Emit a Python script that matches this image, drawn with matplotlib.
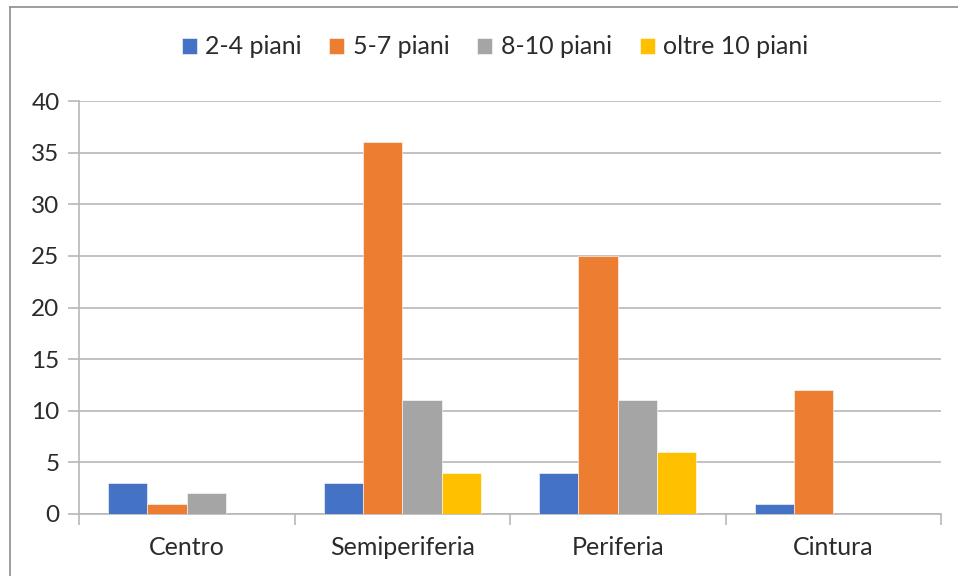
import numpy as np
import matplotlib.pyplot as plt
from matplotlib.lines import Line2D

plt.rcParams['font.family'] = ['Lato', 'DejaVu Sans']

zone = ['Centro', 'Semiperiferia', 'Periferia', 'Cintura']
piani_2_4 = [3, 3, 4, 1]
piani_5_7 = [1, 36, 25, 12]
piani_8_10 = [2, 11, 11, 0]
oltre_10 = [0, 4, 6, 0]

serie = [('2-4 piani', piani_2_4, '#4472C4'),
         ('5-7 piani', piani_5_7, '#ED7D31'),
         ('8-10 piani', piani_8_10, '#A5A5A5'),
         ('oltre 10 piani', oltre_10, '#FFC000')]

testo = '#2B2B2B'
griglia = '#B8B8B8'

fig = plt.figure(figsize=(9.58, 5.76), dpi=100)
ax = fig.add_axes([79/958, 1-514/576, 862/958, 413/576])

x = np.arange(len(zone))
w = 0.1825
for i, (nome, val, col) in enumerate(serie):
    ax.bar(x + (i - 1.5)*w, val, w, color=col, label=nome,
           edgecolor='white', linewidth=0.4, zorder=3)

ax.set_xlim(-0.5, len(zone) - 0.5)
ax.set_ylim(0, 40)
ax.set_yticks(range(0, 41, 5))
ax.yaxis.grid(True, color=griglia, linewidth=1.2, zorder=0)
ax.tick_params(axis='y', length=8, width=1.2, color=griglia, pad=6,
               labelsize=17.5, labelcolor=testo)

ax.set_xticks(x)
ax.set_xticklabels(zone)
ax.set_xticks(np.arange(-0.5, len(zone)), minor=True)
ax.tick_params(axis='x', which='major', length=0, pad=16,
               labelsize=18, labelcolor=testo)
ax.tick_params(axis='x', which='minor', length=8, width=1.2, color=griglia)

for s in ['top', 'right']:
    ax.spines[s].set_visible(False)
for s in ['left', 'bottom']:
    ax.spines[s].set_color(griglia)
    ax.spines[s].set_linewidth(1.2)

fig.legend(loc='center', bbox_to_anchor=(495/958, 1-47/576), ncol=4,
           frameon=False, fontsize=18, handlelength=0.6, handleheight=0.6,
           handletextpad=0.35, columnspacing=1.1, labelcolor=testo)

# cornice esterna del grafico
fig.add_artist(Line2D([10/958, 1], [1-7/576, 1-7/576], color='#8C8C8C', lw=1.2))
fig.add_artist(Line2D([10/958, 10/958], [0, 1-7/576], color='#8C8C8C', lw=1.2))

fig.savefig('out.png', dpi=100)
